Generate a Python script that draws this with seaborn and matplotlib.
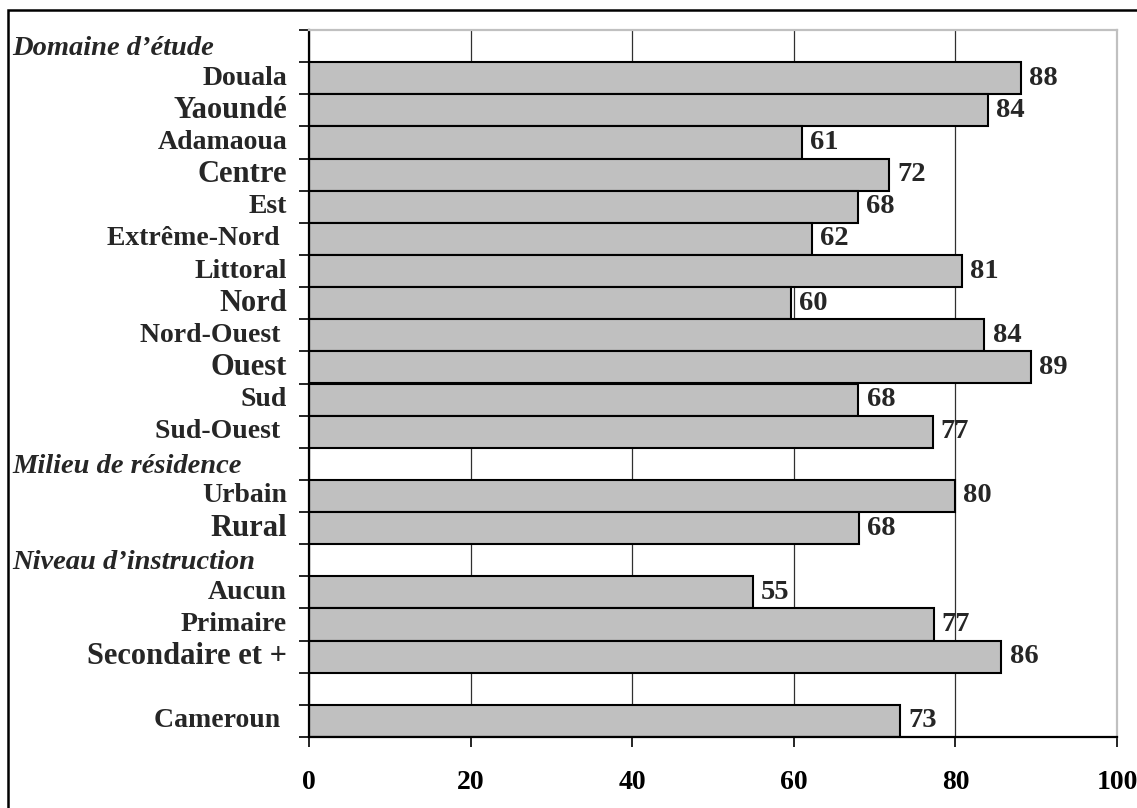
#!/usr/bin/env python

import numpy as np
import pandas as pd
import matplotlib
matplotlib.use("Agg")
import matplotlib.pyplot as plt
from matplotlib.patches import Rectangle
from matplotlib.transforms import blended_transform_factory
import seaborn as sns

# lignes du graphique (de haut en bas), None = ligne sans barre
lignes = ["Domaine d’étude", "Douala", "Yaoundé", "Adamaoua", "Centre", "Est",
          "Extrême-Nord ", "Littoral", "Nord", "Nord-Ouest ", "Ouest", "Sud",
          "Sud-Ouest ", "Milieu de résidence", "Urbain", "Rural",
          "Niveau d’instruction", "Aucun", "Primaire", "Secondaire et +",
          "_vide_", "Cameroun "]
valeurs = [None, 88.1, 84.0, 61.0, 71.8, 67.9,
           62.2, 80.8, 59.7, 83.6, 89.3, 68.0,
           77.2, None, 80.0, 68.1,
           None, 54.9, 77.3, 85.7,
           None, 73.2]
entetes = ["Domaine d’étude", "Milieu de résidence", "Niveau d’instruction"]
# libellés écrits un peu plus gros dans l'original
grands = ["Yaoundé", "Centre", "Nord", "Ouest", "Rural", "Secondaire et +"]
xticks = [0, 20, 40, 60, 80, 100]


def main():
    sns.set_style("white")
    plt.rcParams['font.family'] = ['Liberation Serif', 'DejaVu Serif']
    plt.rcParams['font.weight'] = 'bold'

    df = pd.DataFrame({'ligne': lignes, 'valeur': valeurs}).dropna()

    fig = plt.figure(figsize=(11.37, 8.08), dpi=100)
    ax = fig.add_axes([309 / 1137, 1 - 737 / 808, (1117 - 309) / 1137, (737 - 30) / 808])

    sns.barplot(data=df, x='valeur', y='ligne', order=lignes, orient='h',
                color='#c0c0c0', saturation=1, edgecolor='black',
                linewidth=1.5, width=1.0, ax=ax)

    ax.set_xlim(0, 100)
    ax.set_ylim(len(lignes) - 0.5, -0.5)
    ax.set(xlabel='', ylabel='')

    # quadrillage vertical
    ax.set_axisbelow(True)
    ax.xaxis.grid(True, color='#303030', linewidth=0.9)
    ax.set_xticks(xticks)
    ax.set_xticklabels([str(t) for t in xticks], fontsize=20, fontweight='bold')
    ax.tick_params(axis='x', direction='out', length=7, width=1.2,
                   pad=17, bottom=True, colors='black')

    # petits traits entre les catégories
    ax.set_yticks(np.arange(-0.5, len(lignes), 1))
    ax.set_yticklabels([])
    ax.tick_params(axis='y', direction='out', length=7.5, width=1.2,
                   left=True, colors='black')

    for s in ['left', 'bottom']:
        ax.spines[s].set_color('black')
        ax.spines[s].set_linewidth(1.6)
    for s in ['top', 'right']:
        ax.spines[s].set_color('#c0c0c0')
        ax.spines[s].set_linewidth(1.6)

    # libellés des lignes
    trans = ax.get_yaxis_transform()
    trans_fig = blended_transform_factory(fig.transFigure, ax.transData)
    for i, nom in enumerate(lignes):
        if nom == "_vide_":
            continue
        if nom in entetes:
            ax.text(12 / 1137, i + 0.08, nom, transform=trans_fig,
                    ha='left', va='center', fontsize=20.5, style='italic',
                    fontweight='bold')
        else:
            taille = 22 if nom in grands else 20
            ax.text(-22 / 808, i, nom, transform=trans, ha='right',
                    va='center', fontsize=taille, fontweight='bold')

    # valeurs au bout des barres
    for i, v in enumerate(valeurs):
        if v is None:
            continue
        ax.text(v + 1.0, i, f"{v:.0f}", ha='left', va='center',
                fontsize=20.5, fontweight='bold')

    # cadre autour du graphique
    fig.add_artist(Rectangle((8 / 1137, -0.05), 1.0, 1 - 10 / 808 + 0.05,
                             transform=fig.transFigure, fill=False,
                             edgecolor='black', linewidth=1.8))

    plt.savefig("out.png", dpi=100)
    plt.close('all')


if __name__ == '__main__':
    main()
